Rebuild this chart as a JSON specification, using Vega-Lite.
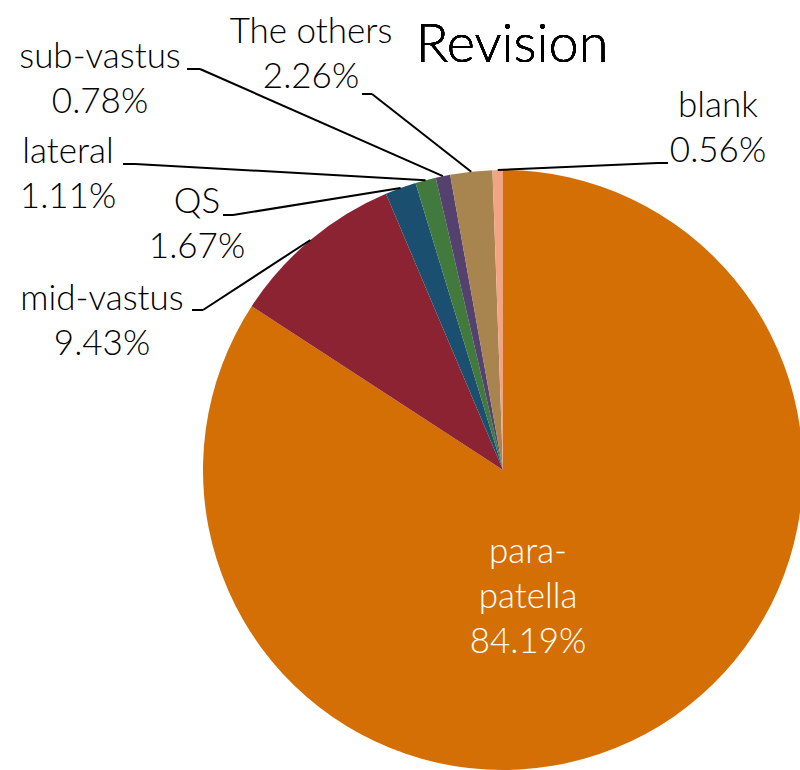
{
  "$schema": "https://vega.github.io/schema/vega-lite/v6.json",
  "width": 1006,
  "height": 940,
  "padding": 0,
  "autosize": {"type": "none"},
  "background": "white",
  "config": {"view": {"stroke": null}},
  "data": {"values": [
    {"category": "para-patella", "percent": 84.19, "order": 1},
    {"category": "mid-vastus", "percent": 9.43, "order": 2},
    {"category": "QS", "percent": 1.67, "order": 3},
    {"category": "lateral", "percent": 1.11, "order": 4},
    {"category": "sub-vastus", "percent": 0.78, "order": 5},
    {"category": "The others", "percent": 2.26, "order": 6},
    {"category": "blank", "percent": 0.56, "order": 7}
  ]},
  "layer": [
    {
      "mark": {"type": "arc", "outerRadius": 300},
      "encoding": {
        "theta": {"field": "percent", "type": "quantitative", "stack": true},
        "order": {"field": "order", "type": "quantitative"},
        "color": {"field": "category", "type": "nominal", "legend": null,
          "scale": {"domain": ["para-patella", "mid-vastus", "QS", "lateral", "sub-vastus", "The others", "blank"],
                    "range": ["#D46F06", "#8C2332", "#1B4F6F", "#417A3C", "#54416D", "#A8844E", "#F2A584"]}}
      }
    },
    {
      "transform": [
        {"window": [{"op": "sum", "field": "percent", "as": "cum"}], "sort": [{"field": "order"}], "frame": [null, 0]},
        {"joinaggregate": [{"op": "sum", "field": "percent", "as": "total"}]},
        {"calculate": "2*PI*(datum.cum - datum.percent/2)/datum.total", "as": "mid"},
        {"calculate": "300*sin(datum.mid)", "as": "ex"},
        {"calculate": "300*cos(datum.mid)", "as": "ey"},
        {"calculate": "{'para-patella': 25, 'mid-vastus': -401, 'QS': -306, 'lateral': -435, 'sub-vastus': -403, 'The others': -192, 'blank': 215}[datum.category]", "as": "lx"},
        {"calculate": "{'para-patella': -93, 'mid-vastus': 160, 'QS': 257, 'lateral': 307, 'sub-vastus': 402, 'The others': 427, 'blank': 353}[datum.category]", "as": "ly"},
        {"calculate": "{'para-patella': 0, 'mid-vastus': -311, 'QS': -280, 'lateral': -380, 'sub-vastus': -316, 'The others': -141, 'blank': 165}[datum.category]", "as": "sx"},
        {"calculate": "{'para-patella': 0, 'mid-vastus': 160, 'QS': 255, 'lateral': 306, 'sub-vastus': 401, 'The others': 376, 'blank': 307}[datum.category]", "as": "sy"},
        {"calculate": "{'para-patella': 0, 'mid-vastus': -300, 'QS': -270, 'lateral': -368, 'sub-vastus': -303, 'The others': -131, 'blank': 155}[datum.category]", "as": "kx"},
        {"calculate": "replace(datum.category, 'para-', 'para-\\n') + '\\n' + format(datum.percent, '.2f') + '%'", "as": "label"}
      ],
      "layer": [
        {
          "transform": [{"filter": "datum.category !== 'para-patella'"}],
          "mark": {"type": "rule", "strokeWidth": 2, "color": "black"},
          "encoding": {
            "x": {"field": "sx", "type": "quantitative", "scale": {"domain": [-503, 503], "nice": false, "zero": false}, "axis": null},
            "y": {"field": "sy", "type": "quantitative", "scale": {"domain": [-470, 470], "nice": false, "zero": false}, "axis": null},
            "x2": {"field": "kx"},
            "y2": {"field": "sy"}
          }
        },
        {
          "transform": [{"filter": "datum.category !== 'para-patella'"}],
          "mark": {"type": "rule", "strokeWidth": 2, "color": "black"},
          "encoding": {
            "x": {"field": "kx", "type": "quantitative"},
            "y": {"field": "sy", "type": "quantitative"},
            "x2": {"field": "ex"},
            "y2": {"field": "ey"}
          }
        },
        {
          "mark": {"type": "text", "align": "center", "baseline": "alphabetic", "fontSize": 35, "font": "Lato", "fontWeight": 300, "lineBreak": "\n", "lineHeight": 45},
          "encoding": {
            "x": {"field": "lx", "type": "quantitative"},
            "y": {"field": "ly", "type": "quantitative"},
            "text": {"field": "label"},
            "color": {"condition": {"test": "datum.category === 'para-patella'", "value": "white"}, "value": "black"}
          }
        }
      ]
    },
    {
      "mark": {"type": "text", "text": "Revision", "align": "center", "baseline": "alphabetic", "fontSize": 54, "font": "Lato", "fontWeight": 300, "color": "black"},
      "encoding": {
        "x": {"datum": 9, "type": "quantitative"},
        "y": {"datum": 408, "type": "quantitative"}
      }
    }
  ]
}
